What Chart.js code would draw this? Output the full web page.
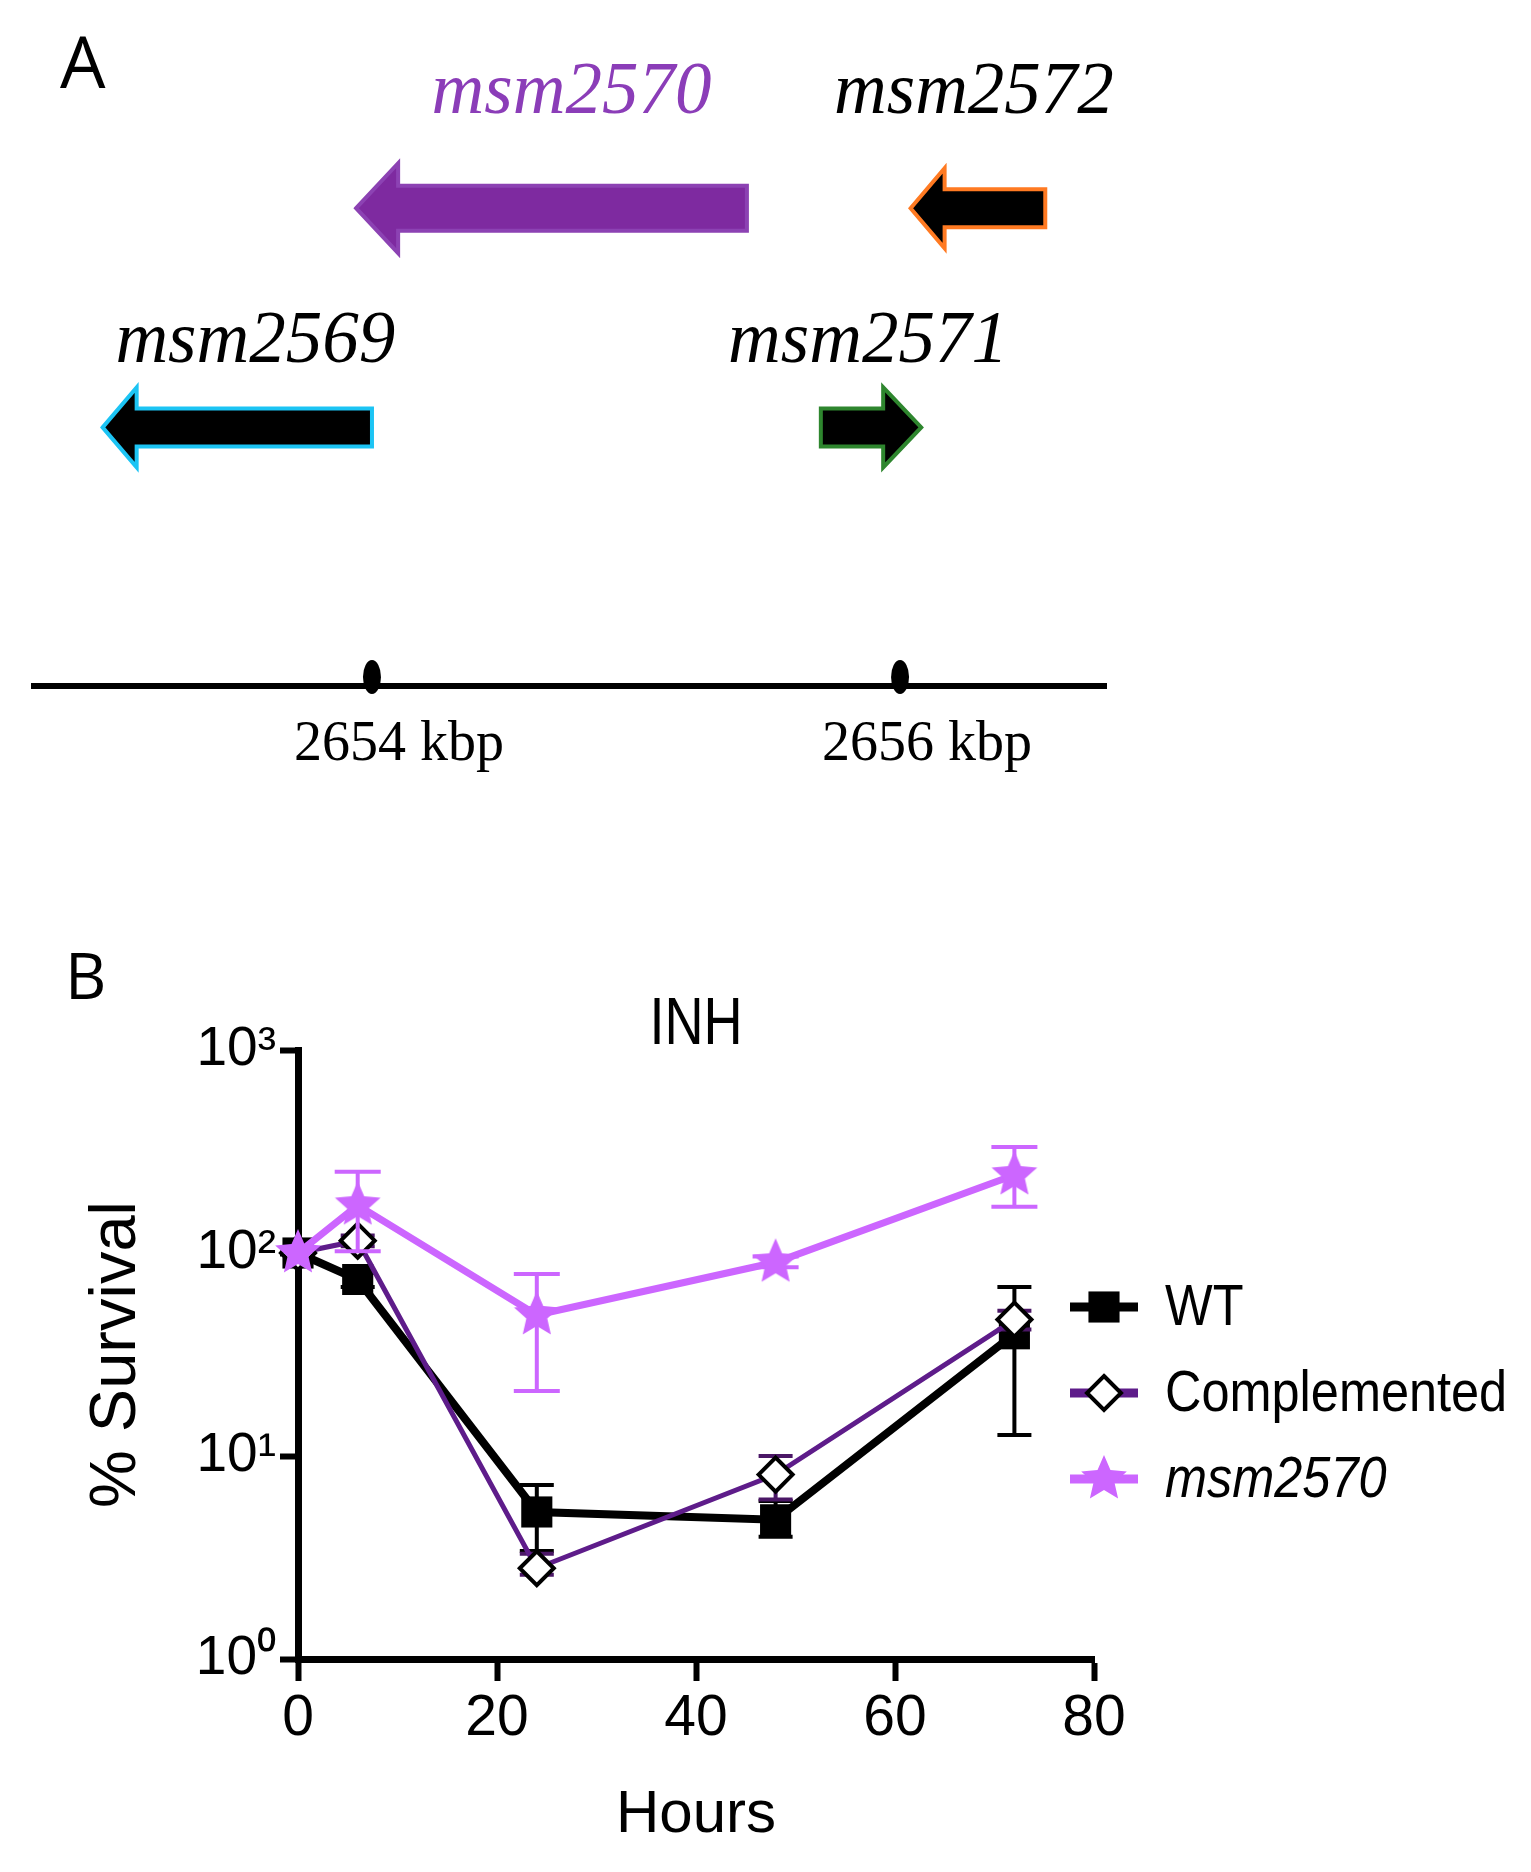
<!DOCTYPE html>
<html><head><meta charset="utf-8">
<script src="https://cdn.jsdelivr.net/npm/chart.js@4.4.1/dist/chart.umd.min.js"></script>
<style>
html,body{margin:0;padding:0;background:#fff;}
#wrap{position:relative;width:1531px;height:1872px;background:#fff;}
#cA{position:absolute;left:0;top:0;}
#cB{position:absolute;left:0;top:900px;}
</style></head><body>
<div id="wrap"><canvas id="cA" width="1531" height="900"></canvas><canvas id="cB" width="1531" height="972"></canvas></div>
<script>
// ================= Panel A data (gene map, kbp) =================
const geneNames     = ['msm2569', 'msm2570', 'msm2571', 'msm2572'];
const geneStartKbp  = [2652.98, 2653.94, 2655.70, 2656.04];
const geneEndKbp    = [2654.00, 2655.42, 2656.08, 2656.55];
const geneStrand    = [-1, -1, 1, -1];
const geneLane      = [2, 1, 2, 1];
const genomeRangeKbp = [2652.72, 2656.78];
const genomeTickKbp  = [2654, 2656];

// ================= Panel B data (INH survival) =================
const hours        = [0, 6, 24, 48, 72];
const xTickValues  = [0, 20, 40, 60, 80];
const yTickValues  = [1, 10, 100, 1000];
const yTickLabels  = ['10\u2070', '10\u00B9', '10\u00B2', '10\u00B3'];
const seriesNames  = ['WT', 'Complemented', 'msm2570'];
const wtSurvival   = [100, 74, 5.3, 4.85, 40];
const wtLow        = [100, 68, 3.4, 4.0, 12.7];
const wtHigh       = [100, 80, 7.2, 6.0, 68];
const compSurvival = [100, 115, 2.8, 8.1, 47];
const compLow      = [100, 108, 2.6, 6.1, 42];
const compHigh     = [100, 122, 3.3, 10.0, 52];
const mutSurvival  = [100, 172, 49.5, 90, 242];
const mutLow       = [100, 102, 20.9, 85, 169];
const mutHigh      = [100, 251, 78.8, 96, 333];

// ================= styles =================
const FONT_SERIF = "'Liberation Serif','Times New Roman',serif";
const FONT_S = "'Liberation Sans',Arial,sans-serif";
const FONT_LETTER = "'Open Sans','Noto Sans',sans-serif";

const geneStyle = {
  msm2569: {fill:'#000000', stroke:'#1CC4F4', body:38, head:80, headLen:34, label:'#000000', labelDx:18},
  msm2570: {fill:'#7E2AA0', stroke:'#8C42B3', body:45, head:90, headLen:42, label:'#8B3DB8', labelDx:20},
  msm2571: {fill:'#000000', stroke:'#2E862E', body:38, head:80, headLen:38, label:'#000000', labelDx:-3},
  msm2572: {fill:'#000000', stroke:'#FF7A22', body:38, head:80, headLen:34, label:'#000000', labelDx:-4}
};
const laneLabelRise = {1: 95, 2: 65};

function narrowText(ctx, text, x, y, sx, align) {
  ctx.save();
  ctx.translate(x, y);
  ctx.scale(sx, 1);
  ctx.textAlign = align;
  ctx.fillText(text, 0, 0);
  ctx.restore();
}

// ---------- Panel A plugin ----------
const geneMapPlugin = {
  id: 'geneMap',
  afterDraw(chart) {
    const ctx = chart.ctx, xs = chart.scales.x, ys = chart.scales.y, ca = chart.chartArea;
    ctx.save();
    ctx.fillStyle = '#000';
    ctx.font = `72px ${FONT_LETTER}`;
    ctx.textAlign = 'left'; ctx.textBaseline = 'alphabetic';
    ctx.fillText('A', 60, 88);
    genomeTickKbp.forEach(v => {
      const px = xs.getPixelForValue(v);
      ctx.beginPath();
      ctx.ellipse(px, ca.bottom - 9, 9, 17, 0, 0, Math.PI * 2);
      ctx.fillStyle = '#000'; ctx.fill();
    });
    geneNames.forEach((name, i) => {
      const st = geneStyle[name];
      const a = xs.getPixelForValue(geneStartKbp[i]);
      const b = xs.getPixelForValue(geneEndKbp[i]);
      const yc = ys.getPixelForValue(geneLane[i]);
      const hb = st.body / 2, hh = st.head / 2;
      ctx.beginPath();
      if (geneStrand[i] < 0) {
        const base = a + st.headLen;
        ctx.moveTo(a, yc); ctx.lineTo(base, yc - hh); ctx.lineTo(base, yc - hb);
        ctx.lineTo(b, yc - hb); ctx.lineTo(b, yc + hb); ctx.lineTo(base, yc + hb);
        ctx.lineTo(base, yc + hh);
      } else {
        const base = b - st.headLen;
        ctx.moveTo(b, yc); ctx.lineTo(base, yc - hh); ctx.lineTo(base, yc - hb);
        ctx.lineTo(a, yc - hb); ctx.lineTo(a, yc + hb); ctx.lineTo(base, yc + hb);
        ctx.lineTo(base, yc + hh);
      }
      ctx.closePath();
      ctx.fillStyle = st.fill; ctx.fill();
      ctx.lineWidth = 4; ctx.lineJoin = 'miter'; ctx.strokeStyle = st.stroke; ctx.stroke();
      ctx.font = `italic 73px ${FONT_SERIF}`;
      ctx.fillStyle = st.label; ctx.textAlign = 'center'; ctx.textBaseline = 'alphabetic';
      ctx.fillText(name, (a + b) / 2 + st.labelDx, yc - laneLabelRise[geneLane[i]]);
    });
    ctx.restore();
  }
};

new Chart(document.getElementById('cA'), {
  type: 'scatter',
  data: { datasets: [] },
  options: {
    responsive: false, animation: false, events: [],
    layout: { padding: { left: 34, right: 1531 - 1106, top: 0, bottom: 0 } },
    plugins: { legend: { display: false }, tooltip: { enabled: false } },
    scales: {
      x: {
        type: 'linear', min: genomeRangeKbp[0], max: genomeRangeKbp[1],
        afterBuildTicks: s => { s.ticks = genomeTickKbp.map(v => ({ value: v })); },
        afterFit: s => { s.height = 900 - 686; },
        border: { display: true, color: '#000', width: 6 },
        grid: { display: true, drawOnChartArea: false, drawTicks: false },
        ticks: {
          callback: v => v + ' kbp', font: { family: FONT_SERIF, size: 56 }, color: '#000',
          padding: 26, labelOffset: 27, autoSkip: false, maxRotation: 0
        }
      },
      y: { type: 'linear', reverse: true, min: 0.05, max: 3.18, display: false }
    }
  },
  plugins: [geneMapPlugin]
});

// ---------- Panel B ----------
function makeStar(color, R, r) {
  const c = document.createElement('canvas');
  const s = Math.ceil(2 * R + 2);
  c.width = s; c.height = s;
  const g = c.getContext('2d');
  g.fillStyle = color; g.beginPath();
  for (let k = 0; k < 10; k++) {
    const rad = (k % 2) ? r : R;
    const ang = -Math.PI / 2 + k * Math.PI / 5;
    g.lineTo(s / 2 + rad * Math.cos(ang), s / 2 + rad * Math.sin(ang));
  }
  g.closePath(); g.fill();
  return c;
}
const MUT_COLOR = '#CC66FF';
const COMP_COLOR = '#5E1C8A';
const starImg = makeStar(MUT_COLOR, 24, 11);

function pts(vals) { return hours.map((h, i) => ({ x: h, y: vals[i] })); }

const errorBarPlugin = {
  id: 'errorBars',
  beforeDatasetDraw(chart, args) {
    const ds = chart.data.datasets[args.index];
    if (!ds.errLow) return;
    const xs = chart.scales.x, ys = chart.scales.y, ctx = chart.ctx;
    ctx.save();
    ctx.strokeStyle = ds.errColor; ctx.lineWidth = ds.errWidth; ctx.lineCap = 'butt';
    ds.data.forEach((p, i) => {
      const lo = ds.errLow[i], hi = ds.errHigh[i];
      if (!(hi > lo)) return;
      const px = xs.getPixelForValue(p.x), p1 = ys.getPixelForValue(lo), p2 = ys.getPixelForValue(hi);
      const hw = ds.capWidth / 2;
      ctx.beginPath();
      ctx.moveTo(px, p1); ctx.lineTo(px, p2);
      ctx.moveTo(px - hw, p1); ctx.lineTo(px + hw, p1);
      ctx.moveTo(px - hw, p2); ctx.lineTo(px + hw, p2);
      ctx.stroke();
    });
    ctx.restore();
  }
};

function drawMarker(ctx, ds, x, y) {
  const st = ds.pointStyle, r = ds.pointRadius;
  ctx.save();
  if (st === 'rect') {
    const h = Math.SQRT1_2 * r;
    ctx.fillStyle = ds.pointBackgroundColor;
    ctx.fillRect(x - h, y - h, 2 * h, 2 * h);
  } else if (st === 'rectRot') {
    ctx.beginPath();
    ctx.moveTo(x, y - r); ctx.lineTo(x + r, y); ctx.lineTo(x, y + r); ctx.lineTo(x - r, y); ctx.closePath();
    ctx.fillStyle = ds.pointBackgroundColor; ctx.fill();
    ctx.lineWidth = ds.pointBorderWidth; ctx.strokeStyle = ds.pointBorderColor; ctx.stroke();
  } else if (st instanceof HTMLCanvasElement) {
    ctx.drawImage(st, x - st.width / 2, y - st.height / 2);
  }
  ctx.restore();
}

const decorPlugin = {
  id: 'decor',
  afterDraw(chart) {
    const ctx = chart.ctx, ca = chart.chartArea;
    ctx.save();
    ctx.fillStyle = '#000';
    ctx.textAlign = 'left'; ctx.textBaseline = 'alphabetic';
    ctx.font = `64px ${FONT_LETTER}`;
    ctx.fillText('B', 65, 99);
    ctx.font = `66px ${FONT_S}`;
    narrowText(ctx, 'INH', (ca.left + ca.right) / 2, 144, 0.82, 'center');
    const lx0 = 1070, lx1 = 1138, tx = 1165, y0 = 407, gap = 86;
    chart.data.datasets.forEach((ds, i) => {
      const y = y0 + i * gap;
      ctx.beginPath(); ctx.moveTo(lx0, y); ctx.lineTo(lx1, y);
      ctx.strokeStyle = ds.borderColor; ctx.lineWidth = 9; ctx.stroke();
      drawMarker(ctx, ds, (lx0 + lx1) / 2, y);
      ctx.fillStyle = '#000'; ctx.textBaseline = 'middle';
      ctx.font = (ds.label === 'msm2570' ? 'italic ' : '') + `58px ${FONT_S}`;
      narrowText(ctx, ds.label, tx, y + 2, 0.87, 'left');
    });
    ctx.restore();
  }
};

new Chart(document.getElementById('cB'), {
  type: 'line',
  data: {
    datasets: [
      {
        label: seriesNames[0], data: pts(wtSurvival), borderColor: '#000000', backgroundColor: '#000000',
        borderWidth: 8, tension: 0, pointStyle: 'rect', pointRadius: 22, pointBackgroundColor: '#000000',
        pointBorderWidth: 0, order: 3, clip: false,
        errLow: wtLow, errHigh: wtHigh, errColor: '#000000', errWidth: 4, capWidth: 34
      },
      {
        label: seriesNames[1], data: pts(compSurvival), borderColor: COMP_COLOR, backgroundColor: '#ffffff',
        borderWidth: 5, tension: 0, pointStyle: 'rectRot', pointRadius: 17, pointBackgroundColor: '#ffffff',
        pointBorderColor: '#000000', pointBorderWidth: 4, order: 2, clip: false,
        errLow: compLow, errHigh: compHigh, errColor: '#4B1766', errWidth: 4, capWidth: 34
      },
      {
        label: seriesNames[2], data: pts(mutSurvival), borderColor: MUT_COLOR, backgroundColor: MUT_COLOR,
        borderWidth: 7, tension: 0, pointStyle: starImg, pointRadius: 24, order: 1, clip: false,
        errLow: mutLow, errHigh: mutHigh, errColor: MUT_COLOR, errWidth: 4, capWidth: 46
      }
    ]
  },
  options: {
    responsive: false, animation: false, events: [],
    layout: { padding: { left: 0, top: 150, right: 1531 - 1094, bottom: 0 } },
    plugins: { legend: { display: false }, tooltip: { enabled: false }, title: { display: false } },
    scales: {
      x: {
        type: 'linear', min: 0, max: 80,
        afterBuildTicks: s => { s.ticks = xTickValues.map(v => ({ value: v })); },
        afterFit: s => { s.height = 972 - 759; },
        ticks: { font: { family: FONT_S, size: 57 }, color: '#000', padding: 4, maxRotation: 0, autoSkip: false },
        grid: { drawOnChartArea: false, drawTicks: true, tickLength: 22, tickWidth: 6, tickColor: '#000' },
        border: { color: '#000', width: 7 },
        title: { display: true, text: 'Hours', font: { family: FONT_S, size: 60 }, color: '#000', padding: { top: 0, bottom: 21 } }
      },
      y: {
        type: 'logarithmic', min: 1, max: 1000,
        afterBuildTicks: s => { s.ticks = yTickValues.map(v => ({ value: v, major: true })); },
        afterFit: s => { s.width = 298; },
        ticks: { callback: (v, i) => yTickLabels[i], font: { family: FONT_S, size: 55 }, color: '#000', padding: 4, autoSkip: false },
        grid: { drawOnChartArea: false, drawTicks: true, tickLength: 18, tickWidth: 6, tickColor: '#000' },
        border: { color: '#000', width: 7 },
        title: { display: true, text: '% Survival', font: { family: FONT_S, size: 65 }, color: '#000', padding: { top: 78, bottom: 0 } }
      }
    }
  },
  plugins: [errorBarPlugin, decorPlugin]
});
</script>
</body></html>
